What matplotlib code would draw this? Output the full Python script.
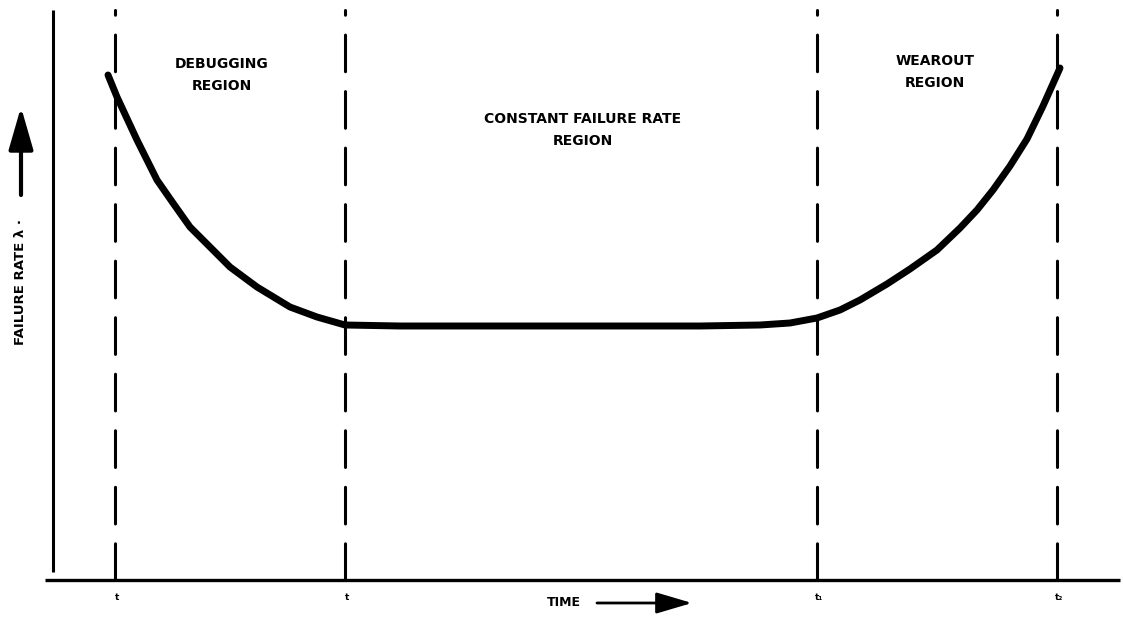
import matplotlib
matplotlib.use('Agg')
import matplotlib.pyplot as plt

# bathtub curve (x = time, y = height above time axis)
rate_x = [108, 117, 137, 157, 173, 190, 210, 230, 257, 290, 317, 345,
          400, 500, 600, 700, 760, 790, 817, 840, 860, 887, 910, 937,
          960, 977, 993, 1010, 1027, 1043, 1060]
rate_y = [505, 483, 440, 400, 377, 353, 333, 313, 293, 273, 263, 255,
          254, 254, 254, 254, 255, 257, 262, 270, 280, 296, 311, 330,
          352, 370, 390, 414, 441, 474, 512]

boundary_x = [115, 345, 817, 1057]
boundary_labels = ['t', 't', 't\u2081', 't\u2082']

region_names = ['DEBUGGING\nREGION', 'CONSTANT FAILURE RATE\nREGION', 'WEAROUT\nREGION']
region_x = [222, 583, 935]
region_y = [505, 450, 508]

fig = plt.figure(figsize=(11.23, 6.22), dpi=100)
ax = fig.add_axes([0, 0, 1, 1])
ax.set_xlim(0, 1123)
ax.set_ylim(-42, 580)
ax.axis('off')

# axes lines
ax.plot([53, 53], [8, 570], color='black', lw=2.2, solid_capstyle='butt')
ax.plot([45, 1120], [0, 0], color='black', lw=2.4, solid_capstyle='butt')

# region boundaries (dashes start at the time axis)
for bx in boundary_x:
    ax.plot([bx, bx], [0, 570], color='black', lw=2.2, dashes=(12, 6.5),
            solid_capstyle='butt', dash_capstyle='round')

ax.plot(rate_x, rate_y, color='black', lw=5, solid_joinstyle='round',
        solid_capstyle='round')

for nm, tx, ty in zip(region_names, region_x, region_y):
    ax.text(tx, ty, nm, ha='center', va='center', fontsize=10,
            fontweight='bold', linespacing=1.75)

for bx, lab in zip(boundary_x, boundary_labels):
    ax.text(bx + 2, -18, lab, ha='center', va='center', fontsize=6.5,
            fontweight='bold')

# axis titles with arrows
ax.text(564, -23, 'TIME', ha='center', va='center', fontsize=9,
        fontweight='bold')
ax.annotate('', xy=(692, -23), xytext=(597, -23),
            arrowprops=dict(arrowstyle='-|>,head_length=2.2,head_width=0.65',
                            color='black', lw=2, shrinkA=0, shrinkB=0))

ax.text(21, 298, 'FAILURE RATE \u03bb \u00b7', ha='center', va='center',
        rotation=90, fontsize=9.5, fontweight='bold')
ax.annotate('', xy=(21, 473), xytext=(21, 385),
            arrowprops=dict(arrowstyle='-|>,head_length=2.6,head_width=0.75',
                            color='black', lw=3, shrinkA=0, shrinkB=0))

fig.savefig('out.png', dpi=100)
